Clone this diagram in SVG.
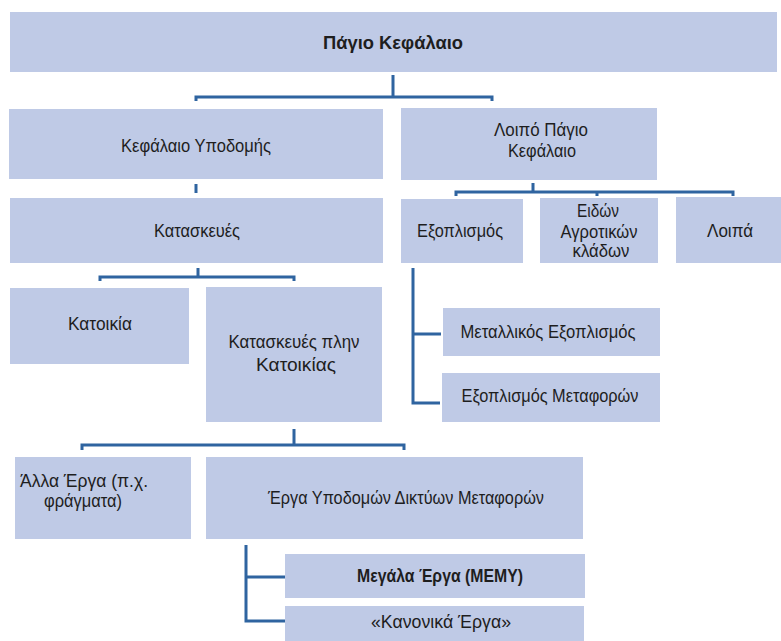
<svg xmlns="http://www.w3.org/2000/svg" width="781" height="641" viewBox="0 0 781 641">
<style>
.box{fill:#BFCAE6;}
.t{font-family:"Liberation Sans",Arial,sans-serif;font-size:18px;fill:#1e1e1e;text-anchor:middle;}
.b{font-weight:bold;}
.c{fill:none;stroke:#2F64A0;stroke-width:3;}
</style>
<rect width="781" height="641" fill="#ffffff"/>
<g id="connectors">
<path class="c" d="M393,75 V97 M196,101 V97 H492 V101"/>
<path class="c" d="M196,184 V193"/>
<path class="c" d="M533,183 V192 M456,196 V192 H733 V196 M597,192 V196"/>
<path class="c" d="M198,268 V277 M100,281 V277 H294 V281"/>
<path class="c" d="M294,429 V445 M82,450 V445 H404 V450"/>
<path class="c" d="M413,268 V403 H440 M413,334 H441"/>
<path class="c" d="M246,545 V621 H285 M246,577 H285"/>
</g>
<g id="n-pagio">
<rect class="box" x="10" y="12" width="767" height="60"/>
<text class="t b" x="393" y="49" font-size="19.5" textLength="140" lengthAdjust="spacingAndGlyphs">Πάγιο Κεφάλαιο</text>
</g>
<g id="n-ypodomis">
<rect class="box" x="9" y="109" width="374" height="70"/>
<text class="t" x="196" y="152" textLength="150" lengthAdjust="spacingAndGlyphs">Κεφάλαιο Υποδομής</text>
</g>
<g id="n-loipo">
<rect class="box" x="401" y="108" width="256" height="72"/>
<text class="t" x="541" y="136" textLength="94" lengthAdjust="spacingAndGlyphs">Λοιπό Πάγιο</text>
<text class="t" x="542" y="157" textLength="68" lengthAdjust="spacingAndGlyphs">Κεφάλαιο</text>
</g>
<g id="n-kataskeves">
<rect class="box" x="10" y="198" width="373" height="65"/>
<text class="t" x="197" y="237" textLength="86" lengthAdjust="spacingAndGlyphs">Κατασκευές</text>
</g>
<g id="n-katoikia">
<rect class="box" x="10" y="288" width="179" height="76"/>
<text class="t" x="100" y="330" textLength="64" lengthAdjust="spacingAndGlyphs">Κατοικία</text>
</g>
<g id="n-plin">
<rect class="box" x="206" y="287" width="176" height="135"/>
<text class="t" x="294" y="348" textLength="131" lengthAdjust="spacingAndGlyphs">Κατασκευές  πλην</text>
<text class="t" x="296" y="371" textLength="80" lengthAdjust="spacingAndGlyphs">Κατοικίας</text>
</g>
<g id="n-exoplismos">
<rect class="box" x="401" y="199" width="122" height="64"/>
<text class="t" x="460" y="237" textLength="86" lengthAdjust="spacingAndGlyphs">Εξοπλισμός</text>
</g>
<g id="n-agrotikon">
<rect class="box" x="540" y="198" width="118" height="65"/>
<text class="t" x="598" y="217" textLength="42" lengthAdjust="spacingAndGlyphs">Ειδών</text>
<text class="t" x="599" y="237.5" textLength="77" lengthAdjust="spacingAndGlyphs">Αγροτικών</text>
<text class="t" x="601" y="257" textLength="57" lengthAdjust="spacingAndGlyphs">κλάδων</text>
</g>
<g id="n-loipa">
<rect class="box" x="676" y="197" width="105" height="66"/>
<text class="t" x="730" y="237" textLength="46" lengthAdjust="spacingAndGlyphs">Λοιπά</text>
</g>
<g id="n-metallikos">
<rect class="box" x="443" y="308" width="217" height="48"/>
<text class="t" x="548" y="338" textLength="175" lengthAdjust="spacingAndGlyphs">Μεταλλικός Εξοπλισμός</text>
</g>
<g id="n-metaforon">
<rect class="box" x="442" y="373" width="218" height="49"/>
<text class="t" x="550" y="402" textLength="177" lengthAdjust="spacingAndGlyphs">Εξοπλισμός Μεταφορών</text>
</g>
<g id="n-alla">
<rect class="box" x="15" y="457" width="176" height="82"/>
<text class="t" x="84" y="487" textLength="128" lengthAdjust="spacingAndGlyphs">Άλλα Έργα (π.χ.</text>
<text class="t" x="83" y="507" textLength="78" lengthAdjust="spacingAndGlyphs">φράγματα)</text>
</g>
<g id="n-erga">
<rect class="box" x="206" y="457" width="377" height="82"/>
<text class="t" x="406" y="504" textLength="276" lengthAdjust="spacingAndGlyphs">Έργα Υποδομών Δικτύων Μεταφορών</text>
</g>
<g id="n-megala">
<rect class="box" x="285" y="554" width="300" height="44"/>
<text class="t b" x="440" y="582" textLength="166" lengthAdjust="spacingAndGlyphs">Μεγάλα Έργα (ΜΕΜΥ)</text>
</g>
<g id="n-kanonika">
<rect class="box" x="285" y="606" width="299" height="35"/>
<text class="t" x="441" y="628" textLength="140" lengthAdjust="spacingAndGlyphs">«Κανονικά Έργα»</text>
</g>
</svg>
